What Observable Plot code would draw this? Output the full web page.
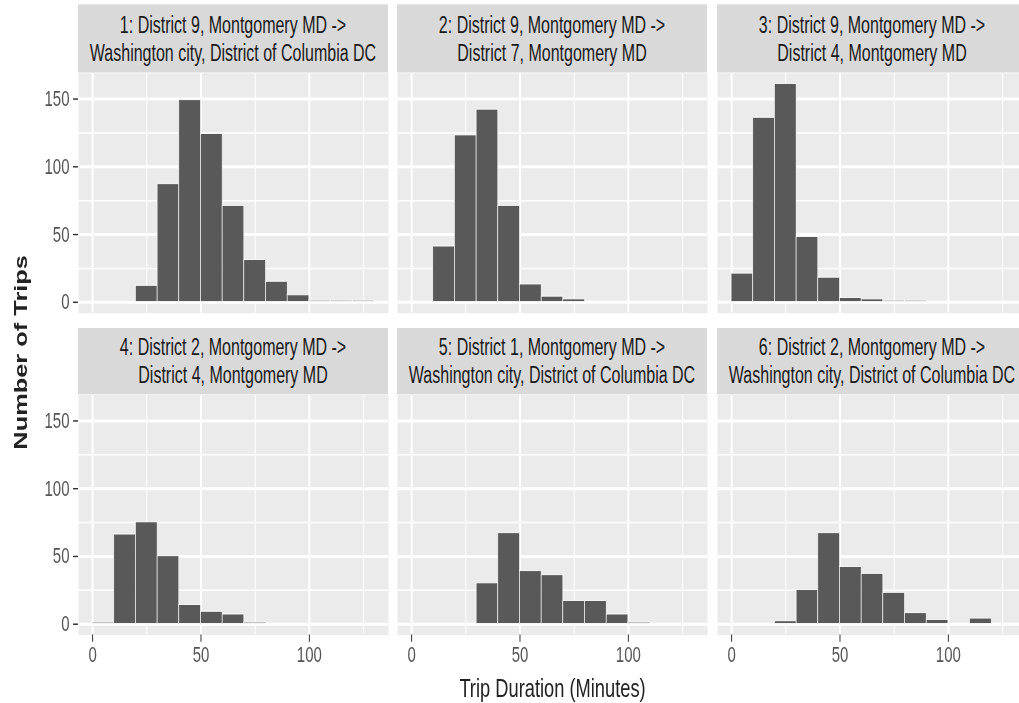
<!DOCTYPE html>
<html><head><meta charset="utf-8">
<script src="https://cdn.jsdelivr.net/npm/d3@7"></script>
<script src="https://cdn.jsdelivr.net/npm/@observablehq/plot@0.6"></script>
<style>
body{margin:0;background:#fff;font-family:"Liberation Sans",Arial,sans-serif}
#wrap{position:relative;width:1019px;height:703px;overflow:hidden;background:#fff}
#inner{position:absolute;left:0;top:0;width:1040px;height:485px;transform:scaleY(1.45);transform-origin:0 0}
.strip{position:absolute;background:#d9d9d9;color:#1a1a1a;font-size:16px;line-height:19px;text-align:center;display:flex;flex-direction:column;justify-content:center;white-space:nowrap}
.panel{position:absolute}
.ytitle{position:absolute;font-weight:bold;font-size:17.5px;color:#222;white-space:nowrap;transform:translate(-50%,-50%) rotate(-90deg)}
.xtitle{position:absolute;font-size:18.3px;color:#222;text-align:center;white-space:nowrap}
</style></head>
<body><div id="wrap"><div id="inner"></div></div>
<script>
// ---- data ----
const binStart = [0, 10, 20, 30, 40, 50, 60, 70, 80, 90, 100, 110, 120];
const binWidth = 10;
const counts1 = [0, 0, 12, 87, 149, 124, 71, 31, 15, 5, 1, 1, 1];
const counts2 = [0, 41, 123, 142, 71, 13, 4, 2, 0, 0, 0, 0, 0];
const counts3 = [21, 136, 161, 48, 18, 3, 2, 1, 1, 0, 0, 0, 0];
const counts4 = [1, 66, 75, 50, 14, 9, 7, 1, 0, 0, 0, 0, 0];
const counts5 = [0, 0, 0, 30, 67, 39, 36, 17, 17, 7, 1, 0, 0];
const counts6 = [0, 0, 2, 25, 67, 42, 37, 23, 8, 3, 0, 4, 0];
const panelCounts = [counts1, counts2, counts3, counts4, counts5, counts6];
const panelTitles = [
  ["1: District 9, Montgomery MD ->", "Washington city, District of Columbia DC"],
  ["2: District 9, Montgomery MD ->", "District 7, Montgomery MD"],
  ["3: District 9, Montgomery MD ->", "District 4, Montgomery MD"],
  ["4: District 2, Montgomery MD ->", "District 4, Montgomery MD"],
  ["5: District 1, Montgomery MD ->", "Washington city, District of Columbia DC"],
  ["6: District 2, Montgomery MD ->", "Washington city, District of Columbia DC"]
];
const xTicks = [0, 50, 100];
const xMinor = [25, 75, 125];
const yTicks = [0, 50, 100, 150];
const yMinor = [25, 75, 125];
const xTitle = "Trip Duration (Minutes)";
const yTitle = "Number of Trips";

// ---- layout (unstretched coords; container is stretched vertically) ----
const S = 1.45;
const colLeft = [78, 397, 717];
const panelW = 310;
const stripTop = [5 / S, 327 / S];
const stripH = 68 / S;
const panelH = 240 / S;

// shared scales with ggplot-like 5% expansion
const xMax = d3.max(panelCounts, c => d3.max(binStart.filter((b, k) => c[k] > 0)) + binWidth);
const xMin = d3.min(panelCounts, c => d3.min(binStart.filter((b, k) => c[k] > 0)));
const yMax = d3.max(panelCounts, c => d3.max(c));
const xDomain = [xMin - 0.05 * (xMax - xMin), xMax + 0.05 * (xMax - xMin)];
const yDomain = [-0.05 * yMax, yMax * 1.05];

const inner = document.getElementById("inner");

panelCounts.forEach((counts, i) => {
  const r = Math.floor(i / 3), c = i % 3;
  const bars = binStart.map((x0, k) => ({x0, x1: x0 + binWidth, n: counts[k]})).filter(d => d.n > 0);
  const ml = c === 0 ? 78 : 0;
  const mb = r === 1 ? 30 : 0;
  const marks = [
    Plot.frame({fill: "#ebebeb", stroke: null}),
    Plot.ruleY(yMinor, {stroke: "#fff", strokeWidth: 1}),
    Plot.ruleX(xMinor, {stroke: "#fff", strokeWidth: 1}),
    Plot.ruleY(yTicks, {stroke: "#fff", strokeWidth: 2}),
    Plot.ruleX(xTicks, {stroke: "#fff", strokeWidth: 2}),
    Plot.rectY(bars, {x1: "x0", x2: "x1", y: "n", fill: "#595959", stroke: "#fff", strokeWidth: 0.6})
  ];
  if (c === 0) marks.push(Plot.axisY(yTicks, {tickSize: 5, tickPadding: 4, stroke: "#333", fill: "#555", fontSize: 15, label: null}));
  if (r === 1) marks.push(Plot.axisX(xTicks, {tickSize: 5, tickPadding: 3, stroke: "#333", fill: "#555", fontSize: 15, label: null}));
  const svg = Plot.plot({
    width: panelW + ml,
    height: panelH + mb,
    marginLeft: ml, marginRight: 0, marginTop: 0, marginBottom: mb,
    x: {domain: xDomain, axis: null},
    y: {domain: yDomain, axis: null, label: null},
    style: {background: "transparent", overflow: "visible", fontFamily: '"Liberation Sans", Arial, sans-serif', maxWidth: "none"},
    marks
  });
  const div = document.createElement("div");
  div.className = "panel";
  div.style.left = (colLeft[c] - ml) + "px";
  div.style.top = (stripTop[r] + stripH) + "px";
  div.style.width = (panelW + ml) + "px";
  div.appendChild(svg);
  inner.appendChild(div);

  const strip = document.createElement("div");
  strip.className = "strip";
  strip.style.left = colLeft[c] + "px";
  strip.style.top = stripTop[r] + "px";
  strip.style.width = panelW + "px";
  strip.style.height = stripH + "px";
  panelTitles[i].forEach(t => { const s = document.createElement("div"); s.textContent = t; strip.appendChild(s); });
  inner.appendChild(strip);
});

const yt = document.createElement("div");
yt.className = "ytitle";
yt.textContent = yTitle;
yt.style.left = "21px";
yt.style.top = (352 / S) + "px";
inner.appendChild(yt);

const xt = document.createElement("div");
xt.className = "xtitle";
xt.textContent = xTitle;
xt.style.left = colLeft[0] + "px";
xt.style.width = (colLeft[2] + panelW - colLeft[0]) + "px";
xt.style.top = (676 / S) + "px";
xt.style.lineHeight = "18px";
inner.appendChild(xt);
</script></body></html>
